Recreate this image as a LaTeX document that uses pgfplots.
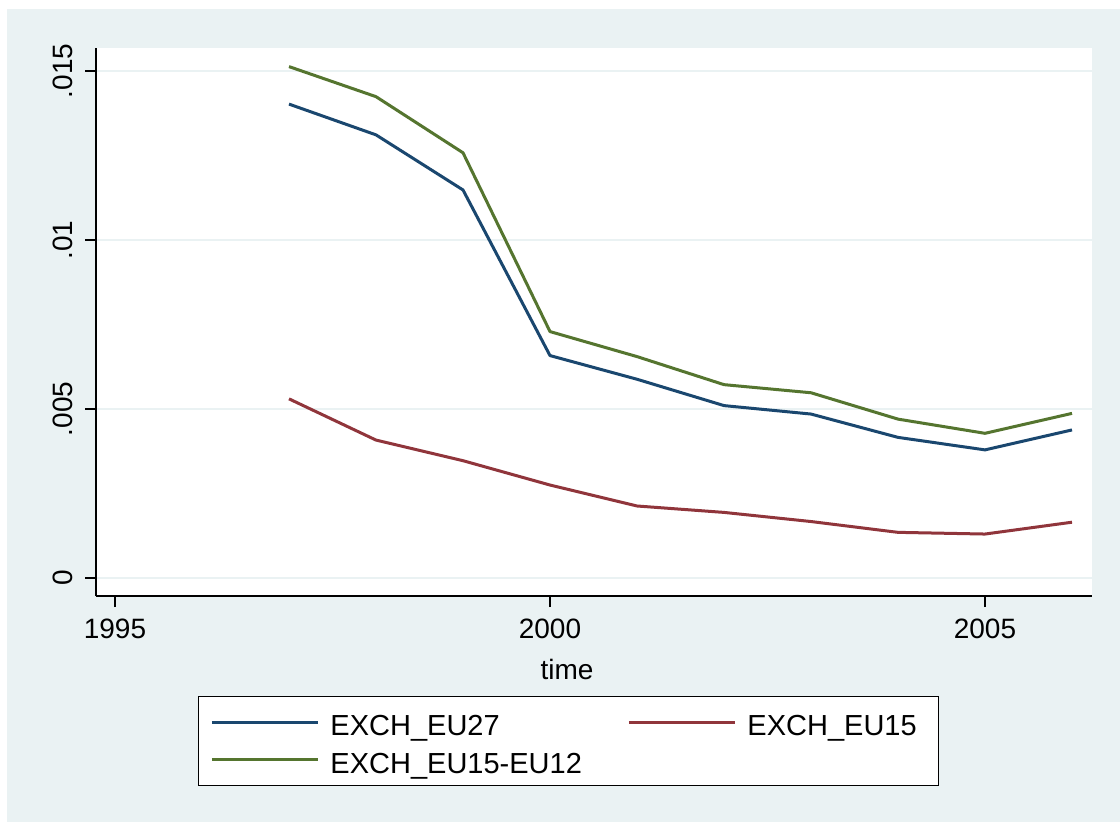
\documentclass[border=0pt]{standalone}
\usepackage{pgfplots}
\pgfplotsset{compat=1.18}
\usepackage{fontspec}
\setmainfont{Liberation Sans}
\definecolor{bgc}{RGB}{234,242,243}
\definecolor{cnavy}{RGB}{26,71,111}
\definecolor{cmaroon}{RGB}{144,53,59}
\definecolor{cgreen}{RGB}{85,117,47}
\begin{document}
\begin{tikzpicture}
\fill[white] (0,0) rectangle (560bp,411bp);
\fill[bgc] (3.5bp,0) rectangle (560bp,406.5bp);
\begin{axis}[
  at={(48bp,113bp)}, anchor=south west,
  scale only axis, width=498bp, height=274bp,
  xmin=1994.7816, xmax=2006.2299,
  ymin=-0.000533, ymax=0.01568,
  scaled y ticks=false, scaled x ticks=false,
  axis background/.style={fill=white},
  axis x line*=bottom, axis y line*=left,
  axis line style={-, black, line width=0.55bp},
  tick align=outside, major tick length=5.5bp,
  every tick/.style={black, line width=0.55bp},
  xtick={1995,2000,2005}, xticklabels={1995,2000,2005},
  ytick={0,0.005,0.01,0.015}, yticklabels={0,.005,.01,.015},
  minor tick num=0,
  ymajorgrids, xmajorgrids=false,
  grid style={bgc, line width=1.3bp},
  tick label style={font=\fontsize{14bp}{16bp}\selectfont},
  xticklabel style={anchor=north, inner sep=0pt, yshift=-6bp},
  yticklabel style={rotate=90, anchor=south, inner sep=0pt, yshift=6bp},
  xlabel={time},
  xlabel style={font=\fontsize{14bp}{16bp}\selectfont, at={(axis description cs:0.473,0)}, anchor=base, yshift=-41.5bp},
  legend columns=2,
  legend image code/.code={\draw[#1] (0bp,0bp) -- (53bp,0bp);},
  legend style={at={(rel axis cs:0.1024,-0.1825)}, anchor=north west,
    draw=black, line width=0.5bp, fill=white,
    inner xsep=6bp, inner ysep=4.5bp,
    font=\fontsize{14.5bp}{16bp}\selectfont,
    nodes={inner sep=0pt},
    /tikz/every odd column/.append style={column sep=5.5bp},
    row sep=2.5bp},
  every axis plot/.append style={line width=1.5bp, line join=round},
]
\addplot[cnavy] coordinates {
(1997,0.01402) (1998,0.01311) (1999,0.01148) (2000,0.00658) (2001,0.00588)
(2002,0.00510) (2003,0.00485) (2004,0.00416) (2005,0.00379) (2006,0.00438)};
\addlegendentry{\makebox[148.5bp][l]{\rule[-5bp]{0pt}{20bp}EXCH\_EU27}}
\addplot[cmaroon] coordinates {
(1997,0.00530) (1998,0.00408) (1999,0.00347) (2000,0.00275) (2001,0.00213)
(2002,0.00194) (2003,0.00167) (2004,0.00135) (2005,0.00130) (2006,0.00165)};
\addlegendentry{\makebox[89.5bp][l]{\rule[-5bp]{0pt}{20bp}EXCH\_EU15}}
\addplot[cgreen] coordinates {
(1997,0.01513) (1998,0.01424) (1999,0.01258) (2000,0.00729) (2001,0.00655)
(2002,0.00572) (2003,0.00548) (2004,0.00470) (2005,0.00428) (2006,0.00487)};
\addlegendentry{\makebox[148.5bp][l]{\rule[-5bp]{0pt}{20bp}EXCH\_EU15-EU12}}
\end{axis}
\pgfresetboundingbox
\useasboundingbox (0,0) rectangle (560bp,411bp);
\end{tikzpicture}
\end{document}
